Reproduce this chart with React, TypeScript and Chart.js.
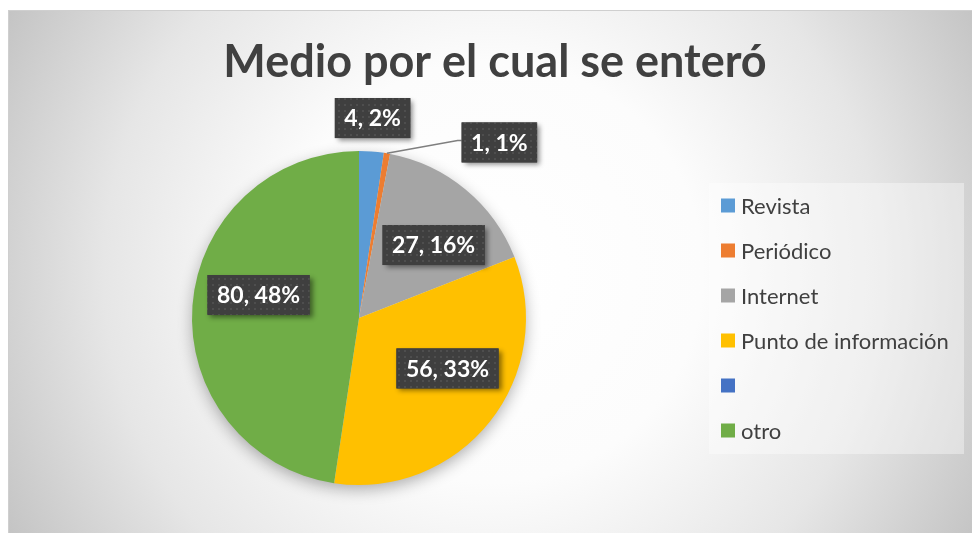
import React, { useEffect, useRef } from "react";
import { Chart, ArcElement, PieController } from "chart.js";

Chart.register(ArcElement, PieController);

// ---- Data ----
const categories = ["Revista", "Periódico", "Internet", "Punto de información", "", "otro"];
const values = [4, 1, 27, 56, 0, 80];
const colors = ["#5B9BD5", "#ED7D31", "#A5A5A5", "#FFC000", "#4472C4", "#70AD47"];
const titleText = "Medio por el cual se enteró";

// label placement (style): radius factor and angular nudge in degrees
const labelRadius = [1.2, 1.346, 0.625, 0.61, 0.6, 0.617];
const labelAngleNudge = [-0.4, 29, 6, -8.9, 0, 8.6];
const labelLeader = [false, true, false, false, false, false];

const FONT = "Lato, 'Open Sans', 'DejaVu Sans', sans-serif";

function makePattern(ctx: CanvasRenderingContext2D) {
  const c = document.createElement("canvas");
  c.width = 6;
  c.height = 6;
  const p = c.getContext("2d")!;
  p.fillStyle = "#3f3f3f";
  p.fillRect(0, 0, 6, 6);
  p.fillStyle = "#4e4e4e";
  p.fillRect(2, 2, 2, 2);
  return ctx.createPattern(c, "repeat");
}

const decorPlugin = {
  id: "decor",
  beforeDraw(chart: any) {
    const ctx: CanvasRenderingContext2D = chart.ctx;
    const W = chart.width;
    const H = chart.height;
    ctx.save();
    ctx.fillStyle = "#ffffff";
    ctx.fillRect(0, 0, W, H);
    const cx = 492;
    const cy = 272;
    const g = ctx.createRadialGradient(cx, cy, 0, cx, cy, 555);
    g.addColorStop(0, "#ffffff");
    g.addColorStop(0.38, "#fcfcfc");
    g.addColorStop(0.7, "#e6e6e6");
    g.addColorStop(1, "#c3c3c3");
    ctx.fillStyle = g;
    ctx.fillRect(8, 10, W, H);
    ctx.strokeStyle = "#cfcfcf";
    ctx.lineWidth = 1;
    ctx.strokeRect(8.5, 10.5, W + 10, H + 10);
    ctx.restore();
  },
  beforeDatasetsDraw(chart: any) {
    const ctx: CanvasRenderingContext2D = chart.ctx;
    const meta = chart.getDatasetMeta(0);
    const arc = meta.data[0];
    if (!arc) return;
    const { x, y, outerRadius } = arc.getProps(["x", "y", "outerRadius"], true);
    ctx.save();
    ctx.shadowColor = "rgba(0,0,0,0.33)";
    ctx.shadowBlur = 16;
    ctx.shadowOffsetY = 5;
    ctx.beginPath();
    ctx.arc(x, y, outerRadius - 1, 0, Math.PI * 2);
    ctx.fillStyle = "#e0e0e0";
    ctx.fill();
    ctx.restore();
  },
  afterDatasetsDraw(chart: any) {
    const ctx: CanvasRenderingContext2D = chart.ctx;
    const meta = chart.getDatasetMeta(0);
    const data: number[] = chart.data.datasets[0].data;
    const total = data.reduce((a, b) => a + b, 0);
    const pattern = makePattern(ctx);

    // Title
    ctx.save();
    ctx.font = `bold 45px ${FONT}`;
    ctx.fillStyle = "#404040";
    ctx.textAlign = "center";
    ctx.textBaseline = "middle";
    ctx.fillText(titleText, 495, 62);
    ctx.restore();

    // Data labels
    meta.data.forEach((el: any, i: number) => {
      const v = data[i];
      if (!v) return;
      const p = el.getProps(["x", "y", "startAngle", "endAngle", "outerRadius"], true);
      const mid = (p.startAngle + p.endAngle) / 2;
      const ang = mid + (labelAngleNudge[i] * Math.PI) / 180;
      const r = labelRadius[i] * p.outerRadius;
      const cx = p.x + r * Math.cos(ang);
      const cy = p.y + r * Math.sin(ang);
      const text = `${v}, ${Math.round((v / total) * 100)}%`;
      ctx.save();
      ctx.font = `bold 23px ${FONT}`;
      const tw = ctx.measureText(text).width;
      const bw = tw + 19;
      const bh = 40;
      const bx = cx - bw / 2;
      const by = cy - bh / 2;
      if (labelLeader[i]) {
        const ex = p.x + p.outerRadius * Math.cos(mid);
        const ey = p.y + p.outerRadius * Math.sin(mid);
        ctx.strokeStyle = "#7f7f7f";
        ctx.lineWidth = 1.5;
        ctx.beginPath();
        ctx.moveTo(ex, ey);
        ctx.lineTo(bx - 4, cy - 2);
        ctx.lineTo(bx, cy - 2);
        ctx.stroke();
      }
      ctx.shadowColor = "rgba(0,0,0,0.45)";
      ctx.shadowBlur = 5;
      ctx.shadowOffsetX = 3;
      ctx.shadowOffsetY = 3;
      ctx.fillStyle = "#404040";
      ctx.fillRect(bx, by, bw, bh);
      ctx.shadowColor = "transparent";
      ctx.fillStyle = pattern || "#404040";
      ctx.fillRect(bx, by, bw, bh);
      ctx.fillStyle = "#ffffff";
      ctx.textAlign = "center";
      ctx.textBaseline = "middle";
      ctx.fillText(text, cx, cy + 1);
      ctx.restore();
    });

    // Legend
    const lx = 709;
    const ly = 183;
    const lw = 255;
    const rowH = 45;
    const labels: string[] = chart.data.labels;
    ctx.save();
    ctx.fillStyle = "rgba(255,255,255,0.38)";
    ctx.fillRect(lx, ly, lw, rowH * labels.length + 1);
    ctx.font = `22px ${FONT}`;
    ctx.textBaseline = "middle";
    ctx.textAlign = "left";
    labels.forEach((lab, i) => {
      const cy = ly + rowH / 2 + rowH * i;
      ctx.fillStyle = chart.data.datasets[0].backgroundColor[i];
      ctx.fillRect(lx + 12, cy - 7, 14, 14);
      ctx.fillStyle = "#404040";
      ctx.fillText(lab, lx + 32, cy + 1);
    });
    ctx.restore();
  },
};

export default function App() {
  const ref = useRef<HTMLCanvasElement | null>(null);
  useEffect(() => {
    document.body.style.margin = "0";
    const canvas = ref.current!;
    const chart = new Chart(canvas, {
      type: "pie",
      data: {
        labels: categories,
        datasets: [
          {
            data: values,
            backgroundColor: colors,
            borderWidth: 0,
          },
        ],
      },
      options: {
        animation: false,
        responsive: false,
        devicePixelRatio: 1,
        rotation: 0,
        layout: { padding: { left: 192, right: 446, top: 151, bottom: 48 } },
        plugins: {
          legend: { display: false },
          tooltip: { enabled: false },
          title: { display: false },
        },
      },
      plugins: [decorPlugin],
    });
    return () => chart.destroy();
  }, []);
  return (
    <div style={{ position: "absolute", left: 0, top: 0, width: 972, height: 533 }}>
      <canvas ref={ref} width={972} height={533} style={{ display: "block" }} />
    </div>
  );
}
